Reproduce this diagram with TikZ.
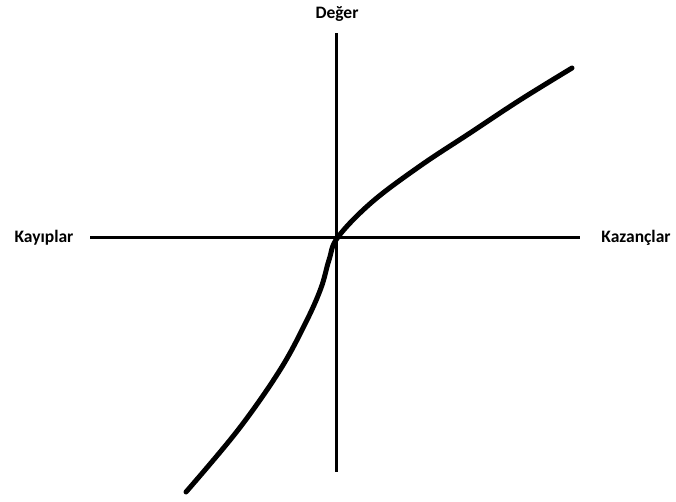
\documentclass[tikz,border=0pt]{standalone}
\usepackage{fontspec}
\setmainfont{Carlito}
\begin{document}
\begin{tikzpicture}[x=1pt,y=-1pt,
  axis/.style={line width=3pt},
  curve/.style={line width=5pt,line cap=round,line join=round},
  lbl/.style={font=\bfseries\fontsize{17.5}{20}\selectfont,inner sep=0pt}]
\useasboundingbox (0,0) rectangle (676,501);
\coordinate (vt) at (336,33);
\coordinate (vb) at (336,472);
\coordinate (hl) at (90,237);
\coordinate (hr) at (580,237);
\draw[axis] (vt) -- (vb);
\draw[axis] (hl) -- (hr);
\node[lbl] (deger) at (337,14) {Değer};
\node[lbl] (kay) at (44,238) {Kayıplar};
\node[lbl] (kaz) at (636,238) {Kazançlar};
\draw[curve] plot[smooth,tension=0.6] coordinates {(186,492) (238,430) (280,370) (306,322) (321,288) (329,260) (338,237) (372,202) (420,166) (470,133) (520,100) (572,68)};
\end{tikzpicture}
\end{document}
